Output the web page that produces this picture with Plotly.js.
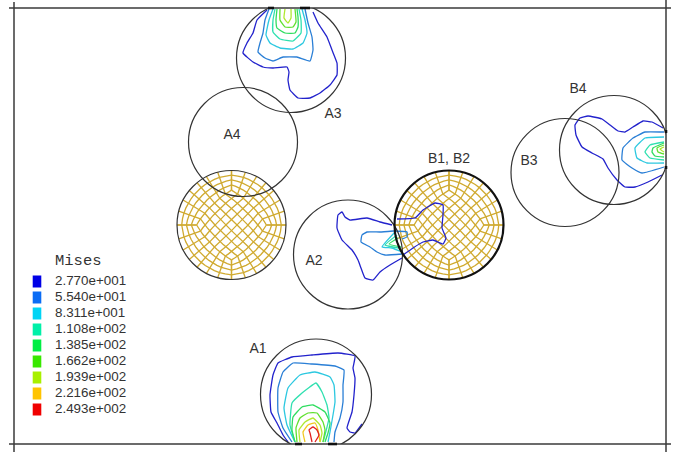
<!DOCTYPE html>
<html>
<head>
<meta charset="utf-8">
<script src="https://cdn.plot.ly/plotly-3.0.1.min.js"></script>
<style>html,body{margin:0;padding:0;background:#fff}#c{width:688px;height:452px}</style>
</head>
<body>
<div id="c"></div>
<script>
// Legend
var legendTitle = "Mises";
var legendLabels = ["2.770e+001","5.540e+001","8.311e+001","1.108e+002","1.385e+002","1.662e+002","1.939e+002","2.216e+002","2.493e+002"];
var legendColors = ["#0000e6","#0a6cf5","#00d4f5","#00f0a8","#00ee44","#38e800","#a8f000","#ffc400","#f00000"];
var contourColors = ["#2222cc","#2a7fd6","#2cc8e0","#30e0b0","#30dd60","#60e030","#b0e830","#f0c820","#e02020"];

// Circles (picture coordinates)
var circleCx = [291,243,231.5,348,449,565,614,316];
var circleCy = [58,142,225,254.5,225,172.5,150,394.5];
var circleR  = [54.5,54.5,54.5,54.5,54.5,54,54.5,55.5];
var circleW  = [1.2,1.2,1.2,1.2,2.2,1.2,1.2,1.2];

// Labels
var labelText = ["A3","A4","A2","A1","B1, B2","B3","B4"];
var labelX = [333,232,314,258,449,529,578];
var labelY = [114.5,135.5,261.5,349.5,159.5,161.5,89.5];

// Contours: level index, x[], y[]
var a3Level = [0,1,2,3,4,5,6];
var a3X = [
 [267,257,253,247,243,253,263,273,287,289,288,290,298,310,320,330,337,337,332,327,318,313],
 [269,265,263,260,258,265,273,283,297,310,313,312,308,305],
 [273,269,266,270,280,293,303,307,305,302],
 [275,273,273,280,293,301,301,299],
 [277,276,277,285,295,298,298,297],
 [280,280,285,293,296,295],
 [285,284,288,291,291]];
var a3Y = [
 [10,20,33,43,53,62,67,68,67,72,80,90,98,98,93,85,75,63,50,37,23,12],
 [9,20,33,43,52,58,61,57,57,61,50,37,23,9],
 [9,20,35,43,48,49,43,33,20,9],
 [9,20,32,39,41,33,20,9],
 [9,20,28,33,33,27,17,9],
 [9,20,27,27,22,9],
 [9,18,23,18,9]];

var a2Level = [0,0,1,1,2,3,4];
var a2X = [
 [392,380,367,350,345,342,338,337,342,352,358,361,365,373,380,390,402],
 [397,415,423,435,443,443,442,446,443,433,423,413,403],
 [393,380,367,362,361,370,377,385,402],
 [393,407,407,402],
 [395,382,392,402],
 [397,385,393,401],
 [398,389,401]];
var a2Y = [
 [225,222,218,220,217,212,215,228,240,250,260,268,278,280,272,265,258],
 [219,218,210,203,205,215,228,238,244,240,242,248,255],
 [231,232,232,235,242,247,252,255,254],
 [231,232,237,239],
 [232,247,248,252],
 [235,245,247,248],
 [238,244,247]];

var b4Level = [0,1,2,3,4,5,6];
var b4X = [
 [663,652,643,633,625,618,610,602,588,580,575,576,582,592,603,608,617,625,635,648,662],
 [664,645,633,623,622,632,642,664],
 [664,645,635,637,647,664],
 [664,650,645,650,664],
 [664,653,652,655,664],
 [664,657,658,664],
 [664,660,664]];
var b4Y = [
 [128,122,121,127,132,131,125,119,116,118,125,135,147,153,159,168,180,187,187,182,175],
 [132,132,138,148,160,168,173,167],
 [137,138,148,158,163,163],
 [142,145,152,158,160],
 [143,148,152,156,157],
 [145,148,152,154],
 [147,149,152]];

var a1Level = [0,1,2,3,4,5,6,7,8];
var a1X = [
 [288,283,277,271,270,273,278,292,312,338,355,353,355,354,352,347,350,355,362],
 [292,283,278,278,283,293,312,335,344,343,343,340,335,334],
 [295,287,284,288,300,315,330,334,335,333,330,328],
 [295,290,292,302,316,322,327,329,325,323],
 [295,292,293,302,313,325,330,328,325],
 [297,296,300,308,317,323,325,323],
 [300,299,305,313,320,322,320],
 [305,303,308,315,318,320],
 [312,310,309,313,317,319,315]];
var a1Y = [
 [442,435,423,412,395,375,363,357,355,353,356,368,378,395,412,428,432,433,424],
 [442,428,412,388,372,363,364,366,370,385,402,418,432,442],
 [442,425,408,388,375,372,377,385,402,415,432,442],
 [442,425,403,393,383,392,405,418,435,442],
 [442,430,417,407,405,412,423,433,442],
 [442,428,418,413,413,422,430,442],
 [442,430,422,418,425,433,442],
 [442,432,425,423,430,442],
 [442,433,430,427,430,435,442]];

var frameColor = "#3a3a3a";
var circleColor = "#333333";
var meshColor = "#d0aa30";
var traces = [];

// O-grid FE mesh (diamond core, radial rim) in the two meshed discs
var meshDiscs = [2,4];
var coreCells = 7, coreHalfDiag = 0.64, coreBow = 0.3, ringLevels = [0.27,0.52,0.76];
meshDiscs.forEach(function(k){
  var xs = [], ys = [];
  var r = Math.SQRT1_2;
  function disc(u,v){ return [u*Math.sqrt(1-v*v/2), v*Math.sqrt(1-u*u/2)]; }
  function core(u,v){
    var e = disc(u,v), a = coreHalfDiag*r;
    return [(1-coreBow)*a*u + coreBow*coreHalfDiag*e[0], (1-coreBow)*a*v + coreBow*coreHalfDiag*e[1]];
  }
  function put(p){
    xs.push(circleCx[k] + circleR[k]*(p[0]-p[1])*r);
    ys.push(circleCy[k] + circleR[k]*(p[0]+p[1])*r);
  }
  function brk(){ xs.push(null); ys.push(null); }
  function mix(u,v,s){
    var c = core(u,v), e = disc(u,v);
    return [(1-s)*c[0]+s*e[0], (1-s)*c[1]+s*e[1]];
  }
  var i, j, t, q, steps = 14;
  // core grid
  for (i=0;i<=coreCells;i++){
    t = -1+2*i/coreCells;
    for (j=0;j<=steps;j++){ q=-1+2*j/steps; put(core(t,q)); } brk();
    for (j=0;j<=steps;j++){ q=-1+2*j/steps; put(core(q,t)); } brk();
  }
  // radial lines
  for (i=0;i<=coreCells;i++){
    t = -1+2*i/coreCells;
    [[t,1],[t,-1],[1,t],[-1,t]].forEach(function(uv){
      put(mix(uv[0],uv[1],0)); put(mix(uv[0],uv[1],1)); brk();
    });
  }
  // rings
  ringLevels.forEach(function(s){
    var edges = [function(w){return [w,1];},function(w){return [1,-w];},function(w){return [-w,-1];},function(w){return [-1,w];}];
    edges.forEach(function(f){
      for (j=0;j<=steps;j++){ q=-1+2*j/steps; var uv=f(q); put(mix(uv[0],uv[1],s)); }
    });
    brk();
  });
  traces.push({type:"scatter",mode:"lines",x:xs,y:ys,hoverinfo:"skip",showlegend:false,
    line:{color:meshColor,width:1.3}});
});

// Contours
function addContours(levels,X,Y){
  levels.forEach(function(l,i){
    traces.push({type:"scatter",mode:"lines",x:X[i],y:Y[i],hoverinfo:"skip",showlegend:false,
      line:{color:contourColors[l],width:1.3,shape:"spline",smoothing:0.35}});
  });
}
addContours(a3Level,a3X,a3Y);
addContours(a2Level,a2X,a2Y);
addContours(b4Level,b4X,b4Y);
addContours(a1Level,a1X,a1Y);

// Labels
traces.push({type:"scatter",mode:"text",x:labelX,y:labelY,text:labelText,textposition:"middle center",
  hoverinfo:"skip",showlegend:false,cliponaxis:false,
  textfont:{family:"Liberation Sans",size:14,color:"#333"}});

// Legend text
var legendTextX = 55, legendTop = 282, legendStep = 16;
var legendY = legendLabels.map(function(_,i){return legendTop+i*legendStep;});
traces.push({type:"scatter",mode:"text",x:legendLabels.map(function(){return legendTextX;}),y:legendY,text:legendLabels,
  textposition:"middle right",hoverinfo:"skip",showlegend:false,
  textfont:{family:"Liberation Sans",size:13.4,color:"#333"}});
traces.push({type:"scatter",mode:"text",x:[legendTextX],y:[261],text:[legendTitle],textposition:"middle right",
  hoverinfo:"skip",showlegend:false,
  textfont:{family:"Liberation Mono",size:15.5,color:"#333"}});

var frameL = 14, frameR = 666, frameT = 8, frameB = 444;
function px(v){ return (v-frameL)/(frameR-frameL); }
function py(v){ return (frameB-v)/(frameB-frameT); }

var shapes = [];
circleCx.forEach(function(cx,i){
  shapes.push({type:"circle",xref:"x",yref:"y",x0:cx-circleR[i],x1:cx+circleR[i],
    y0:circleCy[i]-circleR[i],y1:circleCy[i]+circleR[i],layer:"above",
    line:{color:i===4?"#111":circleColor,width:circleW[i]},fillcolor:"rgba(0,0,0,0)"});
});
legendColors.forEach(function(c,i){
  shapes.push({type:"rect",xref:"x",yref:"y",x0:32.7,x1:41.3,y0:legendY[i]-6.5,y1:legendY[i]+5.5,
    fillcolor:c,line:{width:0},layer:"above"});
});
// Frame: four long lines crossing at the corners
var frameX = [[9,671],[9,671],[frameL,frameL],[frameR,frameR]];
var frameY = [[frameT,frameT],[frameB,frameB],[2,452],[0,452]];
frameX.forEach(function(fx,i){
  shapes.push({type:"line",xref:"paper",yref:"paper",x0:px(fx[0]),x1:px(fx[1]),y0:py(frameY[i][0]),y1:py(frameY[i][1]),
    layer:"above",line:{color:frameColor,width:1.5}});
});
// Dark contact patches where the discs meet the frame
var contactX = [[268,274],[300,310],[295,302],[328,337],[666,666],[666,666]];
var contactY = [[frameT,frameT],[frameT,frameT],[frameB,frameB],[frameB,frameB],[130,133],[166,169]];
contactX.forEach(function(cx,i){
  shapes.push({type:"line",xref:"paper",yref:"paper",x0:px(cx[0]),x1:px(cx[1]),y0:py(contactY[i][0]),y1:py(contactY[i][1]),
    layer:"above",line:{color:"#111",width:2.6}});
});

var axisBase = {showgrid:false,zeroline:false,showticklabels:false,ticks:"",showline:false,fixedrange:true};
Plotly.newPlot("c",traces,{
  width:688,height:452,
  margin:{l:frameL,r:688-frameR,t:frameT,b:452-frameB,pad:0},
  paper_bgcolor:"#fff",plot_bgcolor:"#fff",showlegend:false,
  xaxis:Object.assign({range:[frameL,frameR]},axisBase),
  yaxis:Object.assign({range:[frameB,frameT]},axisBase),
  shapes:shapes
},{displayModeBar:false,staticPlot:true});
</script>
</body>
</html>
